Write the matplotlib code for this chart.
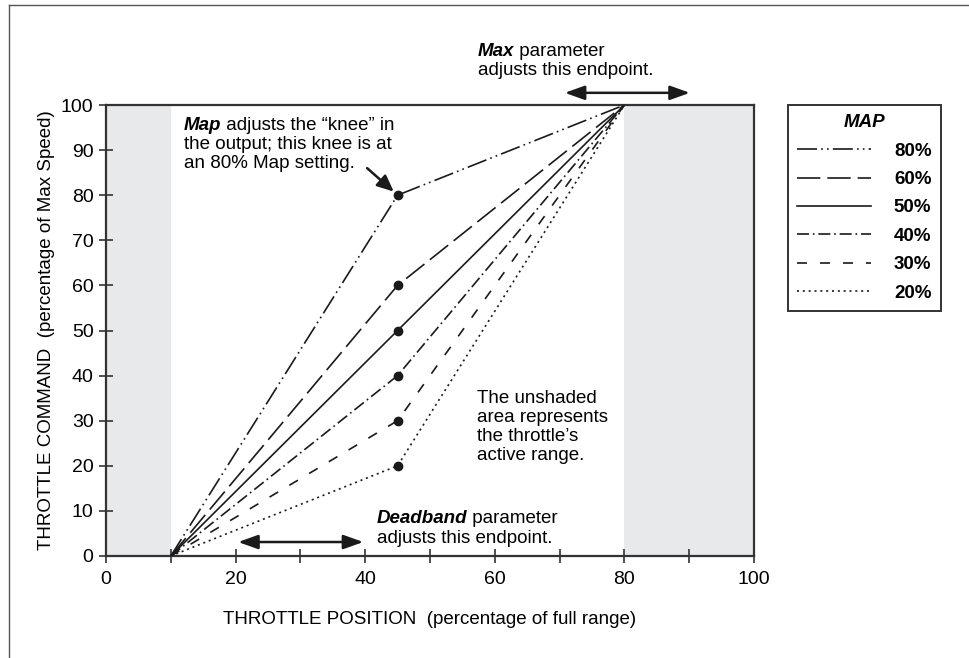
import matplotlib
matplotlib.use('Agg')
import matplotlib.pyplot as plt
from matplotlib.lines import Line2D

plt.rcParams['font.family'] = ['Liberation Sans', 'DejaVu Sans']

# data
map_labels = ['80%', '60%', '50%', '40%', '30%', '20%']
knee_values = [80, 60, 50, 40, 30, 20]
deadband_pos = 10
knee_pos = 45
max_pos = 80
line_styles = [
    (0, (12, 2.5, 1, 2.5, 1, 2.5)),
    (0, (14, 4.2)),
    '-',
    (0, (7.2, 2.3, 1, 2.3)),
    (0, (6, 7.8)),
    (0, (1.2, 2.3)),
]
shade_color = '#e8e9eb'
ink = '#1a1a1a'
fs = 13.5

fig = plt.figure(figsize=(9.69, 6.58), dpi=100)
ax = fig.add_axes([106 / 969, 1 - 556 / 658, 648 / 969, 451 / 658])

# shaded inactive regions
ax.axvspan(0, deadband_pos, color=shade_color, zorder=0, lw=0)
ax.axvspan(max_pos, 100, color=shade_color, zorder=0, lw=0)

handles = []
for lab, knee, ls in zip(map_labels, knee_values, line_styles):
    ln, = ax.plot([deadband_pos, knee_pos, max_pos], [0, knee, 100],
                  color=ink, lw=1.2, linestyle=ls, label=lab, zorder=3)
    handles.append(ln)
    ax.plot([knee_pos], [knee], 'o', color=ink, ms=6, zorder=4)

ax.set_xlim(0, 100)
ax.set_ylim(0, 100)
ax.set_xticks(range(0, 101, 20))
ax.set_xticks(range(10, 100, 20), minor=True)
ax.set_yticks(range(0, 101, 10))
ax.tick_params(which='both', direction='inout', length=10, width=1.2, color='#333333')
ax.tick_params(axis='x', labelsize=14, pad=6)
ax.tick_params(axis='y', labelsize=14, pad=4)
for sp in ax.spines.values():
    sp.set_linewidth(1.6)
    sp.set_color('#333333')

ax.set_xlabel('THROTTLE POSITION  (percentage of full range)', fontsize=fs)
ax.set_ylabel('THROTTLE COMMAND  (percentage of Max Speed)', fontsize=fs)
ax.xaxis.set_label_coords(0.5, -0.122)
ax.yaxis.set_label_coords(-0.078, 0.5)

arrow_kw = dict(color=ink, lw=1.8, shrinkA=0, shrinkB=0)

# Map annotation
t1 = ax.text(12.0, 94.5, 'Map', fontsize=fs, weight='bold', style='italic', va='baseline')
ax.annotate(' adjusts the \u201cknee\u201d in', xy=(1, 0), xycoords=t1, fontsize=fs,
            va='bottom', ha='left')
ax.text(12.0, 90.3, 'the output; this knee is at', fontsize=fs, va='baseline')
ax.text(12.0, 86.1, 'an 80% Map setting.', fontsize=fs, va='baseline')
ax.annotate('', xy=(44.4, 80.8), xytext=(40.3, 86.0),
            arrowprops=dict(arrowstyle='-|>,head_length=1.0,head_width=0.45', **arrow_kw))

# Max annotation
t2 = ax.text(57.4, 110.9, 'Max', fontsize=fs, weight='bold', style='italic', va='baseline')
ax.annotate(' parameter', xy=(1, 0), xycoords=t2, fontsize=fs, va='bottom', ha='left',
            annotation_clip=False)
ax.text(57.4, 106.7, 'adjusts this endpoint.', fontsize=fs, va='baseline')
ax.annotate('', xy=(90.1, 102.7), xytext=(70.8, 102.7), annotation_clip=False,
            arrowprops=dict(arrowstyle='<|-|>,head_length=1.2,head_width=0.43', **arrow_kw))

# Deadband annotation
t3 = ax.text(41.8, 7.3, 'Deadband', fontsize=fs, weight='bold', style='italic', va='baseline')
ax.annotate(' parameter', xy=(1, 0), xycoords=t3, fontsize=fs, va='bottom', ha='left')
ax.text(41.8, 2.9, 'adjusts this endpoint.', fontsize=fs, va='baseline')
ax.annotate('', xy=(39.7, 3.1), xytext=(20.4, 3.1),
            arrowprops=dict(arrowstyle='<|-|>,head_length=1.2,head_width=0.43', **arrow_kw))

# active range note
note_lines = ['The unshaded', 'area represents', 'the throttle\u2019s', 'active range.']
for i, s in enumerate(note_lines):
    ax.text(57.3, 33.9 - 4.2 * i, s, fontsize=fs, va='baseline')

# legend
leg = ax.legend(handles=handles, loc='upper left', bbox_to_anchor=(788 / 969, 1 - 105 / 658),
                bbox_transform=fig.transFigure, title='MAP', fancybox=False,
                edgecolor='#333333', framealpha=1, handlelength=3.95, handletextpad=1.2,
                labelspacing=0.6, borderpad=0.5, borderaxespad=0,
                prop={'size': fs, 'weight': 'bold'},
                title_fontproperties={'size': fs, 'weight': 'bold', 'style': 'italic'})
leg.get_frame().set_linewidth(1.4)

# outer border (left and top)
fig.add_artist(Line2D([9 / 969, 9 / 969], [0, 1 - 5 / 658], transform=fig.transFigure,
                      color='#555555', lw=1))
fig.add_artist(Line2D([9 / 969, 1], [1 - 5 / 658, 1 - 5 / 658], transform=fig.transFigure,
                      color='#555555', lw=1))

fig.savefig('out.png', dpi=100)
